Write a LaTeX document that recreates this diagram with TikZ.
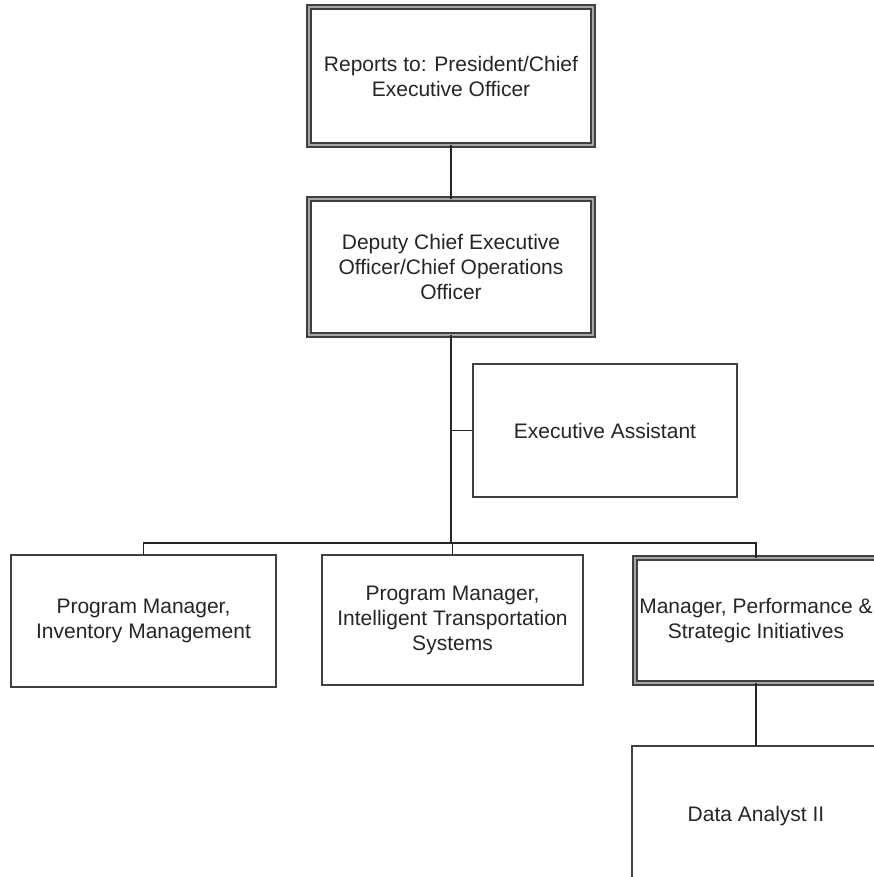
\documentclass[tikz,border=0pt]{standalone}
\usepackage{fontspec}
\setmainfont{Liberation Sans}
\begin{document}
\begin{tikzpicture}[x=1pt,y=-1pt,
  every node/.style={font=\fontsize{21}{25}\selectfont, text=black!85, align=center, inner sep=0pt, outer sep=0pt},
  unitbox/.style={draw=black!75, line width=1.4pt, fill=white, rectangle},
  leadbox/.style={draw=black!75, line width=1.4pt, double=black!35, double distance=2.8pt, fill=white, rectangle},
  link/.style={draw=black!85, line width=1.4pt}]
\useasboundingbox (0,0) rectangle (874,877);
\clip (0,0) rectangle (874,877);

% executive chain
\node[leadbox, minimum width=284pt, minimum height=138pt] (ceo) at (451,76) {Reports to: President/Chief\\Executive Officer};
\node[leadbox, minimum width=284pt, minimum height=136pt] (dceo) at (451,267) {Deputy Chief Executive\\Officer/Chief Operations\\Officer};

% staff position
\node[unitbox, minimum width=264pt, minimum height=133pt] (ea) at (605,430.5) {Executive Assistant};

% direct reports
\node[unitbox, minimum width=265pt, minimum height=132pt] (pmi) at (143.5,621) {Program Manager,\\Inventory Management};
\node[unitbox, minimum width=261pt, minimum height=130pt] (pmt) at (452.5,620) {Program Manager,\\Intelligent Transportation\\Systems};
\node[leadbox, minimum width=242pt, minimum height=125pt] (mps) at (756,620.5) {Manager, Performance \&\\Strategic Initiatives};

% second level
\node[unitbox, minimum width=248pt, minimum height=140pt] (da) at (756,816) {Data Analyst II};

% connectors
\coordinate (bus) at (451,543);
\draw[link] (ceo.south) -- (dceo.north);
\draw[link] (dceo.south) -- (bus);
\draw[link] (dceo.south |- ea.west) -- (ea.west);
\draw[link] (bus) -| (pmi.north);
\draw[link] (bus) -| (pmt.north);
\draw[link] (bus) -| (mps.north);
\draw[link] (mps.south) -- (da.north);
\end{tikzpicture}
\end{document}
